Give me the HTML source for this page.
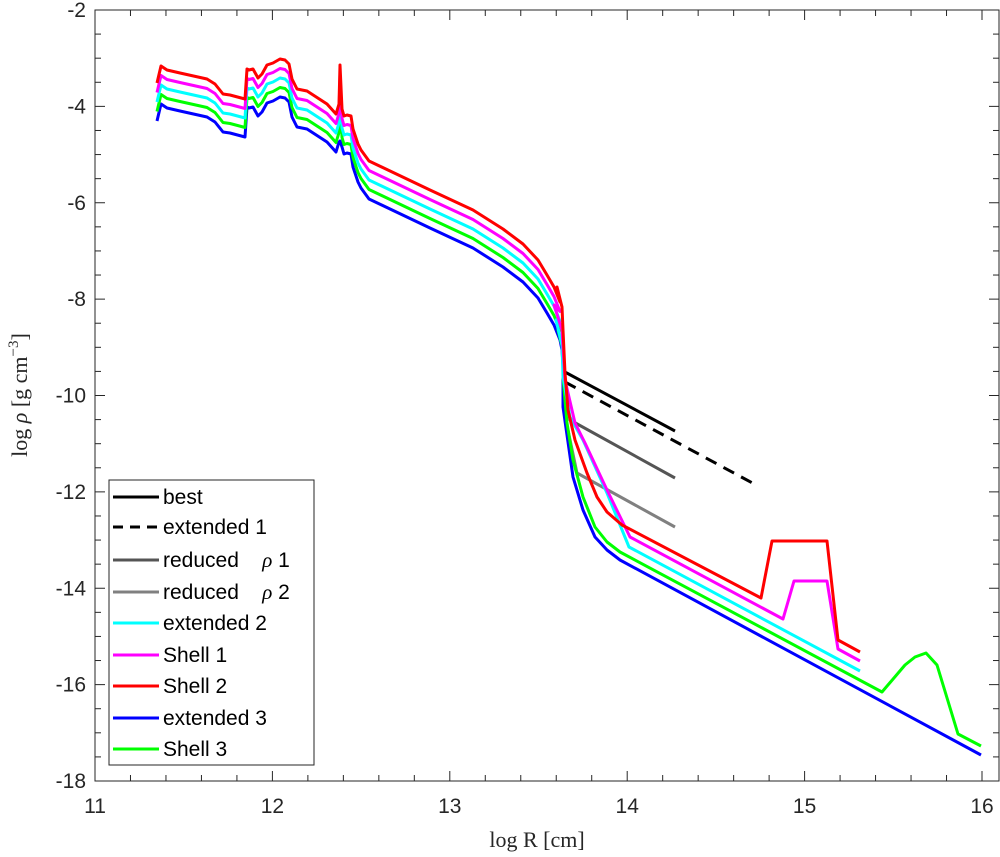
<!DOCTYPE html>
<html><head><meta charset="utf-8"><style>
html,body{margin:0;padding:0;background:#fff;width:1000px;height:857px;overflow:hidden}
svg text{font-family:"Liberation Sans",sans-serif;}
</style></head><body>
<svg id="s" width="1000" height="857" viewBox="0 0 1000 857" xmlns="http://www.w3.org/2000/svg">
<rect x="0" y="0" width="1000" height="857" fill="#fff"/>
<g id="curves" fill="none" stroke-width="3" stroke-linejoin="round"></g>
<rect x="95" y="10" width="904" height="771" fill="none" stroke="#262626" stroke-width="1"/>
<g id="ticks" stroke="#262626" stroke-width="1"></g>
<g font-size="21" fill="#262626" text-anchor="end" id="ylab"></g>
<g font-size="21" fill="#262626" text-anchor="middle" id="xlab"></g>
<text x="537" y="847" font-size="22" text-anchor="middle" style="font-family:'Liberation Serif',serif" fill="#262626">log R [cm]</text>
<text transform="translate(27,395) rotate(-90)" font-size="22" text-anchor="middle" style="font-family:'Liberation Serif',serif" fill="#262626">log <tspan font-style="italic">ρ</tspan> [g cm<tspan dy="-9" font-size="15">−3</tspan><tspan dy="9">]</tspan></text>
<g id="legend">
<rect x="109" y="480" width="205" height="285" fill="#fff" stroke="#262626" stroke-width="1"/>
</g>
</svg>
<script>
const NS="http://www.w3.org/2000/svg";
function el(p,t,a,txt){const e=document.createElementNS(NS,t);for(const k in a)e.setAttribute(k,a[k]);if(txt!==undefined)e.textContent=txt;document.getElementById(p).appendChild(e);return e;}
const X0=95,X1=982,Y0=10,Y1=781;
function xp(v){return X0+(v-11)*(X1-X0)/5;}
function yp(v){return Y0+(-2-v)*(Y1-Y0)/16;}
for(let v=11;v<=16.1001;v+=0.2){const x=xp(v);const maj=Math.abs(v-Math.round(v))<1e-6;const L=maj?10:6;
 el("ticks","line",{x1:x,y1:Y1,x2:x,y2:Y1-L});el("ticks","line",{x1:x,y1:Y0,x2:x,y2:Y0+L});
 if(maj)el("xlab","text",{x:x,y:813},String(Math.round(v)));}
for(let v=-2;v>=-18.001;v-=0.5){const y=yp(v);const maj=Math.abs(v/2-Math.round(v/2))<1e-6;const L=maj?10:6;
 el("ticks","line",{x1:X0,y1:y,x2:X0+L,y2:y});el("ticks","line",{x1:999,y1:y,x2:999-L,y2:y});
 if(maj)el("ylab","text",{x:86,y:y+7},String(Math.round(v)));}
const up=[[157,121],[161,104],[167,108],[180,111],[207,117],[215,122],[223,132],[230,133],[245,137],[247,107],[249,108],[253,107],[258,116],[262,112],[267,103],[273,101],[280,97],[285,98],[289,102],[292,117],[297,127],[307,129],[327,142],[336,152],[339,142],[340,141],[342,147],[344,154],[347,153],[351,154],[353,167],[358,182],[361,188],[369,199],[430,228],[473,248],[503,267],[523,282],[538,298],[547,313],[554,325],[560,340]];
function shifted(k,spike){return up.map(p=>{let y=p[1]-k*9.5;if(p[0]===340)y=spike;return [p[0],y];});}
function path(pts){return "M"+pts.map(p=>p[0]+","+p[1]).join(" L");}
function line(pts,c,extra){const a={d:path(pts),stroke:c};Object.assign(a,extra||{});el("curves","path",a);}
line([[563,371],[675,431]],"#000");
line([[565,382],[758,486]],"#000",{"stroke-dasharray":"12,8"});
line([[566,395],[570,420],[675,478]],"#555555");
line([[568,430],[577,473],[675,527]],"#808080");
line(up.concat([[562,350],[563,365],[563,407],[573,477],[583,510],[595,537],[607,550],[620,560],[981,755]]),"#0000ff");
line(shifted(1,93).concat([[558,330],[563,350],[563,377],[567,423],[573,460],[583,497],[595,527],[607,542],[620,552],[882,692],[905,665],[915,657],[926,653],[937,665],[958,734],[981,746]]),"#00ff00");
line(shifted(2,85).concat([[556,320],[562,345],[563,377],[570,417],[583,440],[607,493],[629,547],[860,671]]),"#00ffff");
line(shifted(3,75).concat([[554,305],[562,330],[565,380],[575,423],[585,443],[607,490],[630,537],[783,619],[794,581],[827,581],[838,649],[860,661]]),"#ff00ff");
line(shifted(4,65).concat([[557,287],[562,307],[563,330],[565,373],[568,410],[575,440],[587,473],[597,497],[607,512],[622,525],[761,598],[772,541],[827,541],[838,640],[860,652]]),"#ff0000");
const items=[["best","#000",0],["extended 1","#000",1],["reduced   ρ 1","#555555",0],["reduced   ρ 2","#808080",0],["extended 2","#00ffff",0],["Shell 1","#ff00ff",0],["Shell 2","#ff0000",0],["extended 3","#0000ff",0],["Shell 3","#00ff00",0]];
const ys=[497,527,560,592,623,655,686,718,749];
items.forEach((it,i)=>{const a={x1:113,y1:ys[i],x2:159,y2:ys[i],stroke:it[1],"stroke-width":3};if(it[2])a["stroke-dasharray"]="10,7";el("legend","line",a);
 const t=el("legend","text",{x:163,y:ys[i]+7,"font-size":"21",fill:"#000"});
 if(it[0].indexOf("ρ")>=0){const parts=it[0].split("ρ");t.setAttribute("style","white-space:pre");t.appendChild(document.createTextNode("reduced    "));const ts=document.createElementNS(NS,"tspan");ts.setAttribute("font-style","italic");ts.setAttribute("style","font-family:'Liberation Serif',serif");ts.textContent="ρ";t.appendChild(ts);t.appendChild(document.createTextNode(parts[1]));}
 else t.textContent=it[0];});
</script>
</body></html>
